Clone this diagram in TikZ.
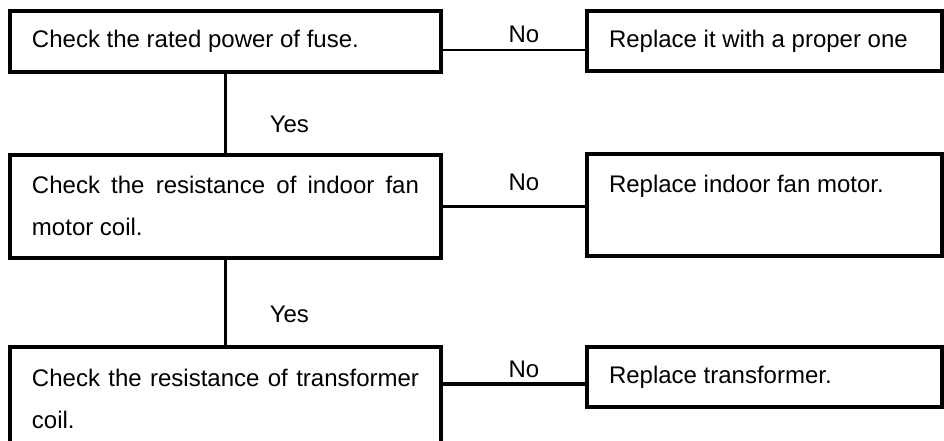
\documentclass[tikz,border=0pt]{standalone}
\usepackage{fontspec}
\setmainfont{Liberation Sans}

\begin{document}
\begin{tikzpicture}[
		x=0.5pt, y=-0.5pt,
		checkbox/.style={draw, line width=2pt, anchor=north west, inner xsep=11pt, text width=193.5pt, align=justify, font=\fontsize{12}{21}\selectfont},
		fixbox/.style={checkbox, text width=155.5pt},
		thinline/.style={line width=0.8pt},
		thickline/.style={line width=1.6pt},
		answer/.style={font=\fontsize{12}{14}\selectfont}
	]
		\useasboundingbox (0, 0) rectangle (944, 440);
		\node[checkbox, minimum height=30.25pt] (fuse) at (8, 9) {Check the rated power of fuse.};
		\node[fixbox, minimum height=30pt] (fuseok) at (585, 9) {Replace it with a proper one};
		\node[checkbox, minimum height=51.75pt] (fan) at (8, 152.5) {Check the resistance of indoor fan motor coil.};
		% empty second line keeps the text at the top
		\node[fixbox, minimum height=51pt] (fanok) at (585, 152) {Replace indoor fan motor.\par\mbox{}};
		\node[checkbox, minimum height=51.75pt] (trafo) at (8, 345) {Check the resistance of transformer coil.};
		\node[fixbox, minimum height=30pt] (trafook) at (585, 345) {Replace transformer.};
		
		\coordinate (n1) at ([yshift=-4.5pt]fuseok.west);
		\coordinate (n3) at ([yshift=-3.5pt]trafook.west);
		
		\draw[thinline] (fuse.east |- n1) -- node[answer, above, pos=0.57] (no1) {No} (n1);
		\draw[thickline] (fan.east) -- node[answer, above, pos=0.57, yshift=3.5pt] (no2) {No} (fan.east -| fanok.west);
		\draw[thickline] (trafo.east |- n3) -- node[answer, above, pos=0.57, yshift=-1pt] (no3) {No} (n3);
		\draw[thickline] (fuse.south) -- node[answer, right, pos=0.64, xshift=18pt] (yes1) {Yes} (fan.north);
		\draw[thickline] (fan.south) -- node[answer, right, pos=0.64, xshift=18pt] (yes2) {Yes} (trafo.north);
	\end{tikzpicture}
\end{document}
